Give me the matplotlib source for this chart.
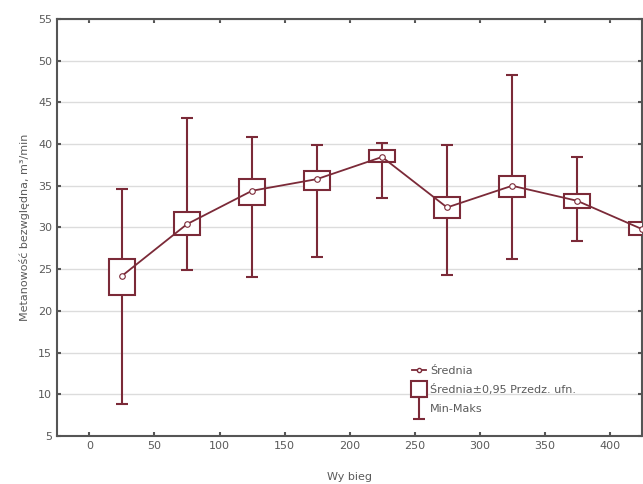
import matplotlib
matplotlib.use("Agg")
import matplotlib.pyplot as plt
from matplotlib.lines import Line2D
from matplotlib.path import Path

# Data
x = [25, 75, 125, 175, 225, 275, 325, 375, 425]
mean = [24.2, 30.4, 34.4, 35.8, 38.45, 32.4, 35.0, 33.2, 29.8]
ci_lo = [21.9, 29.1, 32.75, 34.55, 37.85, 31.1, 33.6, 32.3, 29.1]
ci_hi = [26.2, 31.8, 35.8, 36.75, 39.25, 33.6, 36.2, 34.0, 30.6]
vmin = [8.85, 24.9, 24.1, 26.5, 33.5, 24.3, 26.2, 28.4, 29.2]
vmax = [34.6, 43.1, 40.9, 39.85, 40.1, 39.85, 48.3, 38.4, 30.4]
xticks = [0, 50, 100, 150, 200, 250, 300, 350, 400]
yticks = [5, 10, 15, 20, 25, 30, 35, 40, 45, 50, 55]

col = "#7b2a38"
txtcol = "#5a5a5a"

fig = plt.figure(figsize=(6.43, 4.84), dpi=100)
ax = fig.add_axes([0.0886, 0.099, 0.91, 0.862])

# whiskers
ax.vlines(x, vmin, vmax, color=col, lw=1.5, zorder=2)
ax.hlines(vmin, [v - 4.5 for v in x], [v + 4.5 for v in x], color=col, lw=1.5, zorder=2)
ax.hlines(vmax, [v - 4.5 for v in x], [v + 4.5 for v in x], color=col, lw=1.5, zorder=2)
# boxes
ax.bar(x, [h - l for h, l in zip(ci_hi, ci_lo)], bottom=ci_lo, width=20,
       facecolor="white", edgecolor=col, linewidth=1.5, zorder=3)
# mean line
ax.plot(x, mean, color=col, lw=1.3, marker="o", markersize=4,
        markerfacecolor="white", markeredgecolor=col, markeredgewidth=0.8, zorder=4)

ax.set_xlim(-25, 425)
ax.set_ylim(5, 55)
ax.set_xticks(xticks)
ax.set_yticks(yticks)
ax.yaxis.grid(True, color="#dcdcdc", lw=1)
ax.set_axisbelow(True)
ax.tick_params(direction="in", length=3, width=1.5, color="#555555",
               top=True, right=True, labelsize=8, labelcolor=txtcol)
for s in ax.spines.values():
    s.set_color("#555555")
    s.set_linewidth(1.5)

ax.set_xlabel("Wy bieg", fontsize=8, color=txtcol, labelpad=15)
ax.set_ylabel("Metanowość bezwględna, m³/min", fontsize=8, color=txtcol, labelpad=6)

ibeam = Path([(-0.5, -1), (0.5, -1), (0, -1), (0, 1), (-0.5, 1), (0.5, 1)],
             [Path.MOVETO, Path.LINETO, Path.MOVETO, Path.LINETO, Path.MOVETO, Path.LINETO])
handles = [
    Line2D([], [], color=col, lw=1.3, marker="o", markersize=3,
           markerfacecolor="white", markeredgecolor=col),
    Line2D([], [], ls="none", marker="s", markersize=11,
           markerfacecolor="white", markeredgecolor=col, markeredgewidth=1.5),
    Line2D([], [], ls="none", marker=ibeam, markersize=16,
           markeredgecolor=col, markeredgewidth=1.5),
]
labels = ["Średnia", "Średnia±0,95 Przedz. ufn.", "Min-Maks"]
leg = ax.legend(handles, labels, loc="lower left", bbox_to_anchor=(0.59, 0.03),
                frameon=False, fontsize=8, handlelength=1.2, handletextpad=0.4,
                labelspacing=0.75, labelcolor=txtcol)

fig.savefig("out.png", dpi=100)
